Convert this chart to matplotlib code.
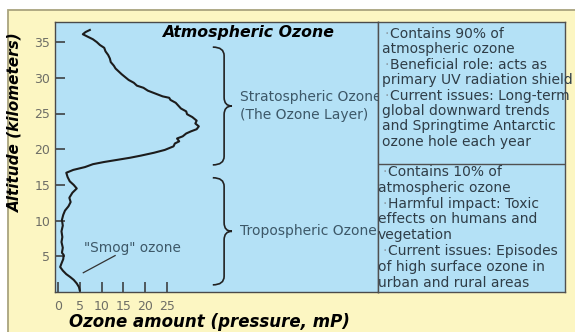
import numpy as np
import matplotlib.pyplot as plt
from matplotlib.path import Path
from matplotlib.patches import PathPatch, Rectangle

# -------- DATA --------
altitude_km = [0.2, 0.7, 1.2, 1.7, 2.1, 2.5, 3.0, 3.5, 4.0, 4.6, 5.2, 5.5, 6.2, 7.0,
               7.7, 8.5, 9.3, 10.1, 10.8, 11.4, 12.0, 12.6, 13.2, 13.9, 14.5, 15.0,
               15.5, 16.1, 16.7, 17.1, 17.5, 17.9, 18.2, 18.5, 18.8, 19.1, 19.5, 19.9,
               20.4, 20.8, 21.1, 21.5, 21.8, 22.2, 22.5, 22.8, 23.2, 23.6, 24.0, 24.5,
               24.9, 25.3, 25.7, 26.1, 26.5, 26.9, 27.2, 27.4, 27.8, 28.2, 28.6, 28.9,
               29.3, 29.7, 30.1, 30.5, 30.9, 31.3, 31.7, 32.2, 32.7, 33.2, 33.7, 34.2,
               34.6, 35.0, 35.4, 35.7, 36.1, 36.4, 36.7]
ozone_mp = [5.0, 4.8, 4.3, 3.6, 2.8, 1.9, 1.1, 0.5, 0.8, 1.2, 1.3, 0.9, 1.1, 0.8,
            1.0, 0.8, 1.1, 0.9, 1.2, 1.6, 2.4, 2.9, 2.6, 3.3, 4.3, 3.6,
            2.7, 2.2, 1.9, 3.5, 6.2, 8.0, 10.5, 13.5, 16.5, 19.0, 22.0, 24.5,
            26.5, 26.8, 27.8, 27.3, 28.6, 29.4, 30.5, 31.8, 32.3, 31.5, 31.8, 30.8,
            29.6, 29.4, 28.2, 27.6, 27.0, 25.8, 25.5, 24.0, 22.3, 20.6, 19.6, 18.1,
            17.4, 16.2, 15.4, 14.6, 13.9, 13.2, 12.8, 12.1, 11.9, 11.5, 10.9, 10.6,
            9.6, 8.9, 8.0, 7.0, 5.7, 6.3, 7.3]

x_ticks = [0, 5, 10, 15, 20, 25]
y_ticks = [5, 10, 15, 20, 25, 30, 35]

strat_range = (17.8, 34.3)   # km covered by the brace
tropo_range = (1.0, 16.0)
strat_label = ["Stratospheric Ozone", "(The Ozone Layer)"]
tropo_label = "Tropospheric Ozone"
smog_label = '"Smog" ozone'

strat_notes = [["Contains 90% of", "atmospheric ozone"],
               ["Beneficial role: acts as", "primary UV radiation shield"],
               ["Current issues: Long-term", "global downward trends",
                "and Springtime Antarctic", "ozone hole each year"]]
tropo_notes = [["Contains 10% of", "atmospheric ozone"],
               ["Harmful impact: Toxic", "effects on humans and", "vegetation"],
               ["Current issues: Episodes", "of high surface ozone in",
                "urban and rural areas"]]

# -------- STYLE --------
W, H = 575, 332
BLUE = '#b4e1f6'
YELLOW = '#fcf6c2'
LABEL_C = '#3d5868'
NOTE_C = '#2f3d47'


def fx(px):
    return px / W


def fy(py):
    return 1 - py / H


fig = plt.figure(figsize=(W / 100, H / 100), dpi=100, facecolor='white')
fig.patches.append(Rectangle((fx(8), -0.1), 1.2, fy(10.5) + 0.1, transform=fig.transFigure,
                             facecolor=YELLOW, edgecolor='#a9a47e', lw=1.3, zorder=-1))

# -------- CHART --------
ax = fig.add_axes([fx(55), fy(292), fx(378) - fx(55), fy(22) - fy(292)])
ax.set_facecolor(BLUE)
ax.set_xlim((55 - 58) / 4.36, (378 - 58) / 4.36)
ax.set_ylim(0, (292 - 22) / 7.14)
ax.plot(ozone_mp, altitude_km, color='#1c1c1c', lw=1.5)

ax.set_xticks(x_ticks)
ax.set_yticks(y_ticks)
ax.tick_params(direction='in', length=7, width=1.1, color='#333333',
               labelcolor='#6e6e66', labelsize=9)
ax.tick_params(axis='x', pad=6)
ax.tick_params(axis='y', pad=3.5)
for sp in ax.spines.values():
    sp.set_color('#4a4a4a')
    sp.set_linewidth(1)


def draw_brace(y0, y1, x0=35.5, x1=38.1, x2=39.9, d=1.2):
    ym = (y0 + y1) / 2
    verts = [(x0, y1), (x1, y1), (x1, y1 - d),
             (x1, ym + d),
             (x1, ym), (x2, ym),
             (x1, ym), (x1, ym - d),
             (x1, y0 + d),
             (x1, y0), (x0, y0)]
    codes = [Path.MOVETO, Path.CURVE3, Path.CURVE3, Path.LINETO,
             Path.CURVE3, Path.CURVE3, Path.CURVE3, Path.CURVE3,
             Path.LINETO, Path.CURVE3, Path.CURVE3]
    ax.add_patch(PathPatch(Path(verts, codes), facecolor='none',
                           edgecolor='#222222', lw=1.2))
    return ym


sm = draw_brace(*strat_range)
tm = draw_brace(*tropo_range)
ax.text(41.7, sm + 1.2, strat_label[0], fontsize=10, color=LABEL_C, va='center', clip_on=True)
ax.text(41.7, sm - 1.2, strat_label[1], fontsize=10, color=LABEL_C, va='center', clip_on=True)
ax.text(41.7, tm, tropo_label, fontsize=10, color=LABEL_C, va='center', clip_on=True)

ax.text(17.0, 6.2, smog_label, fontsize=9.8, color=LABEL_C, ha='center', va='center')
ax.plot([13.1, 5.8], [5.1, 2.7], color='#333333', lw=0.9)

fig.text(fx(248), fy(33), "Atmospheric Ozone", fontsize=11.3, weight='bold',
         style='italic', ha='center', va='center')
fig.text(fx(15), fy(122), "Altitude (kilometers)", fontsize=11, weight='bold',
         style='italic', rotation=90, ha='center', va='center')
fig.text(fx(209), fy(322), "Ozone amount (pressure, mP)", fontsize=12, weight='bold',
         style='italic', ha='center', va='center')

# -------- NOTES BOX --------
box = fig.add_axes([fx(378), fy(292), fx(565) - fx(378), fy(22) - fy(292)])
box.set_facecolor(BLUE)
box.set_xlim(378, 565)
box.set_ylim(292, 22)
box.set_xticks([])
box.set_yticks([])
for sp in box.spines.values():
    sp.set_color('#505050')
    sp.set_linewidth(1)
box.axhline(164, color='#505050', lw=1)


def write_notes(notes, y_start, step, x_cont, x_bullet):
    y = y_start
    for item in notes:
        for i, line in enumerate(item):
            if i == 0:
                box.text(x_bullet - 5, y, "·", fontsize=10, color='#8c9ba4', va='center')
                box.text(x_bullet, y, line, fontsize=10, color=NOTE_C, va='center')
            else:
                box.text(x_cont, y, line, fontsize=10, color=NOTE_C, va='center')
            y += step


write_notes(strat_notes, 34, 15.4, 382, 390)
write_notes(tropo_notes, 172, 15.8, 378, 388)

fig.savefig('out.png', dpi=100, facecolor=fig.get_facecolor())
